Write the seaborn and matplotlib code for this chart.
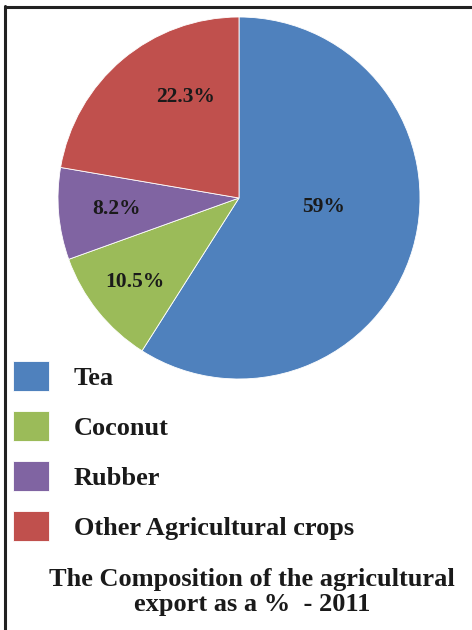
import seaborn as sns
import matplotlib.pyplot as plt
import pandas as pd
import numpy as np
from matplotlib.lines import Line2D

# data
crops = ['Tea', 'Coconut', 'Rubber', 'Other Agricultural crops']
shares = [59, 10.5, 8.2, 22.3]
pct_labels = ['59%', '10.5%', '8.2%', '22.3%']
colors = ['#4F81BD', '#9BBB59', '#8064A2', '#C0504D']
label_dist = [0.47, 0.74, 0.68, 0.63]
label_shift = [10, 0, 0, -12]   # degrees, excel best fit style

df = pd.DataFrame({'crop': crops, 'share': shares, 'label': pct_labels})

sns.set_theme(style='white')
plt.rcParams['font.family'] = ['Liberation Serif', 'DejaVu Serif']
pal = sns.color_palette(colors)

fig = plt.figure(figsize=(4.72, 6.3), dpi=100)
ax = fig.add_axes([(239 - 181) / 472, 1 - (198 + 181) / 630, 362 / 472, 362 / 630])

wedges, _ = ax.pie(df['share'], colors=pal, startangle=90, counterclock=False,
                   wedgeprops=dict(edgecolor='white', linewidth=0.6))
ax.set_aspect('equal')
ax.set_xlim(-1, 1)
ax.set_ylim(-1, 1)

for w, lab, d, s in zip(wedges, df['label'], label_dist, label_shift):
    mid = np.deg2rad((w.theta1 + w.theta2) / 2 + s)
    ax.text(d * np.cos(mid), d * np.sin(mid), lab, ha='center', va='center',
            fontsize=15.5, fontweight='bold', color='#1a1a1a')

fig.legend(wedges, df['crop'], loc='upper left', bbox_to_anchor=(13 / 472, 1 - 361 / 630),
           frameon=False, prop={'weight': 'bold', 'size': 19},
           handlelength=1.37, handleheight=1.38, handletextpad=0.93,
           labelspacing=0.75, borderpad=0, borderaxespad=0, labelcolor='#1a1a1a')

fig.text(252 / 472, 1 - 592 / 630, 'The Composition of the agricultural\nexport as a %  - 2011',
         ha='center', va='center', fontsize=19, fontweight='bold', color='#1a1a1a',
         linespacing=1.15)

# frame lines on top and left
fig.add_artist(Line2D([5 / 472, 5 / 472], [0, 1 - 6 / 630], color='#222222', lw=2.2))
fig.add_artist(Line2D([5 / 472, 1], [1 - 7 / 630, 1 - 7 / 630], color='#222222', lw=2.2))

fig.savefig('out.png', dpi=100, facecolor='white')
